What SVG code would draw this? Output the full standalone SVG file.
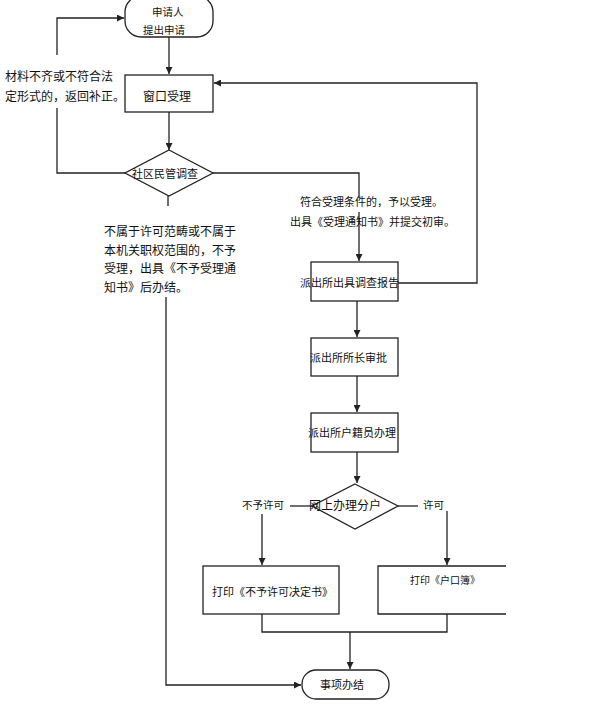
<svg xmlns="http://www.w3.org/2000/svg" width="589" height="710" viewBox="0 0 589 710">
<style>
.n{fill:#fff;stroke:#222;stroke-width:1.3}
.c{fill:none;stroke:#222;stroke-width:1.3}
.t{font-family:"Noto Sans CJK SC","Liberation Sans",sans-serif;font-size:11px;fill:#111}
.t12{font-size:12px}
</style>
<defs>
<marker id="a" viewBox="0 0 10 10" refX="10" refY="5" markerWidth="7" markerHeight="7" markerUnits="userSpaceOnUse" orient="auto">
<path d="M0,0 L10,5 L0,10 z" fill="#222"/>
</marker>
</defs>
<rect width="589" height="710" fill="#fff"/>
<g id="connectors">
<path class="c" d="M169,37 V74" marker-end="url(#a)"/>
<path class="c" d="M169,112 V150" marker-end="url(#a)"/>
<path class="c" d="M125,173 H57 V108"/>
<path class="c" d="M57,55 V18 H124" marker-end="url(#a)"/>
<path class="c" d="M213,173 H359 V198"/>
<path class="c" d="M359,212 V261" marker-end="url(#a)"/>
<path class="c" d="M398,283 H477 V83 H214" marker-end="url(#a)"/>
<path class="c" d="M168,196 V206"/>
<path class="c" d="M166,297 V685 H301" marker-end="url(#a)"/>
<path class="c" d="M357,301 V337" marker-end="url(#a)"/>
<path class="c" d="M357,376 V412" marker-end="url(#a)"/>
<path class="c" d="M357,452 V483" marker-end="url(#a)"/>
<path class="c" d="M312,506 H290"/>
<path class="c" d="M262,514 V565" marker-end="url(#a)"/>
<path class="c" d="M398,506 H418"/>
<path class="c" d="M447,511 V565" marker-end="url(#a)"/>
<path class="c" d="M262,614 V632 H447 V614"/>
<path class="c" d="M350,632 V669" marker-end="url(#a)"/>
</g>
<g id="start">
<rect class="n" x="125" y="-4" width="88" height="41" rx="16"/>
<text class="t" x="152" y="16" style="font-size:10.5px">申请人</text>
<text class="t" x="143" y="34" style="font-size:10.5px">提出申请</text>
</g>
<g id="note-return">
<text class="t t12" x="5" y="81">材料不齐或不符合法</text>
<text class="t t12" x="5" y="101">定形式的，返回补正。</text>
</g>
<g id="window">
<rect class="n" x="125" y="75" width="88" height="37"/>
<text class="t t12" x="143" y="101">窗口受理</text>
</g>
<g id="community">
<polygon class="n" points="169,150 213,173 169,196 125,173"/>
<text class="t" x="132" y="178">社区民管调查</text>
</g>
<g id="note-accept">
<text class="t" x="300" y="206">符合受理条件的，予以受理。</text>
<text class="t" x="290" y="226">出具《受理通知书》并提交初审。</text>
</g>
<g id="note-reject">
<text class="t t12" x="104" y="236">不属于许可范畴或不属于</text>
<text class="t t12" x="104" y="255">本机关职权范围的，不予</text>
<text class="t t12" x="104" y="273">受理，出具《不予受理通</text>
<text class="t t12" x="104" y="292">知书》后办结。</text>
</g>
<g id="report">
<rect class="n" x="311" y="262" width="87" height="39"/>
<text class="t" x="300" y="287">派出所出具调查报告</text>
</g>
<g id="approve">
<rect class="n" x="311" y="338" width="87" height="38"/>
<text class="t" x="310" y="362">派出所所长审批</text>
</g>
<g id="clerk">
<rect class="n" x="311" y="413" width="87" height="39"/>
<text class="t" x="308" y="437">派出所户籍员办理</text>
</g>
<g id="online">
<polygon class="n" points="355,484 398,506 355,529 312,506"/>
<text class="t t12" x="309" y="510">网上办理分户</text>
</g>
<g id="label-deny">
<text class="t" x="242" y="509" style="font-size:10.5px">不予许可</text>
</g>
<g id="label-allow">
<text class="t" x="423" y="509" style="font-size:10.5px">许可</text>
</g>
<g id="print-deny">
<rect class="n" x="203" y="566" width="136" height="48"/>
<text class="t" x="212" y="596">打印《不予许可决定书》</text>
</g>
<g id="print-book">
<path class="n" d="M506,566 H378 V614 H506"/>
<text class="t" x="410" y="584" style="font-size:10px">打印《户口簿》</text>
</g>
<g id="end">
<rect class="n" x="302" y="670" width="87" height="29" rx="14"/>
<text class="t" x="320" y="689">事项办结</text>
</g>
</svg>
